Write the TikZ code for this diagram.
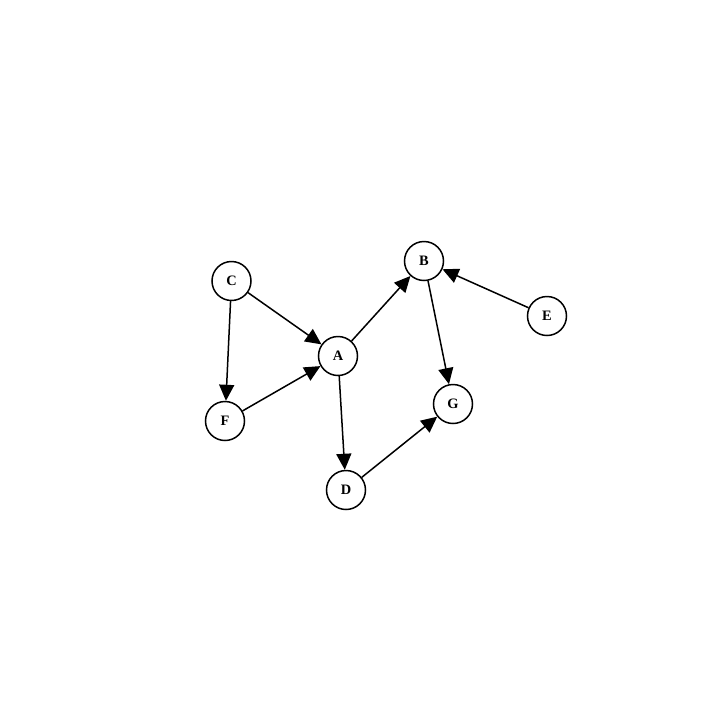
\documentclass[tikz,border=0pt]{standalone}
\usepackage{fontspec}
\setmainfont{Liberation Serif}
\usetikzlibrary{arrows.meta}
\begin{document}
\begin{tikzpicture}[x=0.5pt, y=-0.5pt,
	vertex/.style={circle, draw, line width=0.75pt, minimum size=19.5pt, inner sep=0pt, font=\fontsize{7.2}{8}\selectfont\bfseries},
	edge/.style={line width=0.75pt, -{Triangle[length=8pt, width=7.5pt]}}]

	\useasboundingbox (0,0) rectangle (719,719);

	\node[vertex] (C) at (231.5,281) {C};
	\node[vertex] (F) at (225,421) {F};
	\node[vertex] (A) at (338,356) {A};
	\node[vertex] (B) at (424,261) {B};
	\node[vertex] (G) at (453,404) {G};
	\node[vertex] (D) at (346,490) {D};
	\node[vertex] (E) at (547,316) {E};
	
	\draw[edge] (C) -- (A);
	\draw[edge] (C) -- (F);
	\draw[edge] (F) -- (A);
	\draw[edge] (A) -- (B);
	\draw[edge] (A) -- (D);
	\draw[edge] (B) -- (G);
	\draw[edge] (D) -- (G);
	\draw[edge] (E) -- (B);
	\end{tikzpicture}
\end{document}
